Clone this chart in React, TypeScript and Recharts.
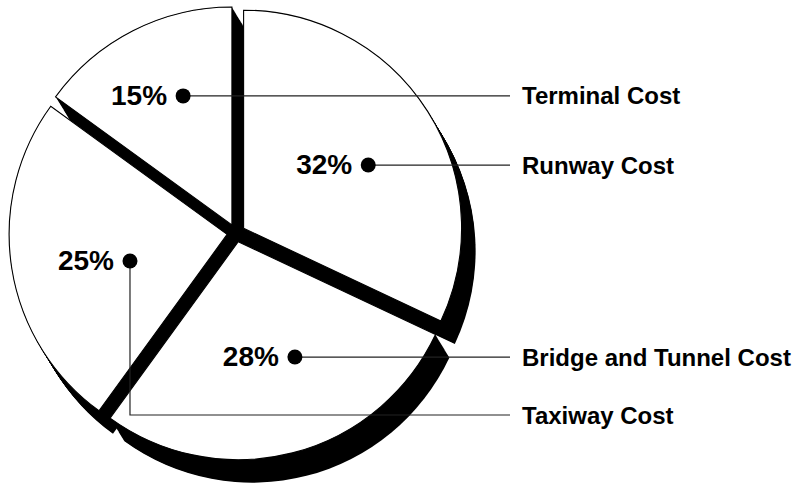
import React from 'react';
import { PieChart, Pie, Sector } from 'recharts';

// ---- data ----
const categories = ['Runway Cost', 'Bridge and Tunnel Cost', 'Taxiway Cost', 'Terminal Cost'];
const shares = [32, 28, 25, 15];

const data = categories.map((name, i) => ({ name, value: shares[i] }));

// ---- layout ----
const W = 801;
const H = 483;
const CX = 236;
const CY = 233;
const R = 218;
const EXPLODE = 9;
const SHADOW_DX = 14;
const SHADOW_DY = 23;
const RAD = Math.PI / 180;

// callout dot placement (polar, relative to pie centre) per slice
const dotAngle = [27.2, -64.6, 194.8, 111.1];
const dotRadiusRatio = [0.682, 0.63, 0.503, 0.674];
// row where the leader line runs to the name (null = same as dot)
const rowY: (number | null)[] = [null, null, 415, null];
const LINE_END_X = 510;
const NAME_X = 522;
const FONT = '"Liberation Sans", Arial, Helvetica, sans-serif';

function explodedCenter(p: any) {
  const m = (p.startAngle + p.endAngle) / 2;
  return { x: p.cx + EXPLODE * Math.cos(m * RAD), y: p.cy - EXPLODE * Math.sin(m * RAD) };
}

const renderShadow = (p: any) => {
  const c = explodedCenter(p);
  const steps = 30;
  return (
    <g>
      {p.index === 0 && <circle cx={p.cx + 4} cy={p.cy + 4} r={26} fill="#000" />}
      {Array.from({ length: steps + 1 }, (_, k) => (
        <Sector
          key={k}
          cx={c.x + (SHADOW_DX * k) / steps}
          cy={c.y + (SHADOW_DY * k) / steps}
          innerRadius={0}
          outerRadius={p.outerRadius}
          startAngle={p.startAngle}
          endAngle={p.endAngle}
          fill="#000"
          stroke="none"
        />
      ))}
    </g>
  );
};

const renderSlice = (p: any) => {
  const c = explodedCenter(p);
  return (
    <Sector
      cx={c.x}
      cy={c.y}
      innerRadius={0}
      outerRadius={p.outerRadius}
      startAngle={p.startAngle}
      endAngle={p.endAngle}
      fill="#fff"
      stroke="#000"
      strokeWidth={1.1}
    />
  );
};

const renderCallout = (p: any) => {
  const i = p.index;
  const r = p.outerRadius * dotRadiusRatio[i];
  const x = p.cx + r * Math.cos(dotAngle[i] * RAD);
  const y = p.cy - r * Math.sin(dotAngle[i] * RAD);
  const ry = rowY[i] == null ? y : (rowY[i] as number);
  const d = `M${x},${y} L${x},${ry} L${LINE_END_X},${ry}`;
  return (
    <g>
      <path d={d} fill="none" stroke="#222" strokeWidth={1.2} />
      <circle cx={x} cy={y} r={7.5} fill="#000" />
      <text
        x={x - 16}
        y={y + 9}
        textAnchor="end"
        fontFamily={FONT}
        fontWeight="bold"
        fontSize={28}
        fill="#000"
      >
        {`${shares[i]}%`}
      </text>
      <text x={NAME_X} y={ry + 8.5} fontFamily={FONT} fontWeight="bold" fontSize={24} fill="#000">
        {categories[i]}
      </text>
    </g>
  );
};

export default function App() {
  const common = {
    data,
    dataKey: 'value',
    nameKey: 'name',
    cx: CX,
    cy: CY,
    innerRadius: 0,
    outerRadius: R,
    startAngle: 90,
    endAngle: -270,
    fill: 'none',
    stroke: 'none',
    labelLine: false,
    isAnimationActive: false,
  } as any;
  return (
    <div style={{ position: 'absolute', left: 0, top: 0, width: W, height: H, background: '#fff' }}>
      <PieChart width={W} height={H} margin={{ top: 0, right: 0, bottom: 0, left: 0 }}>
        <Pie {...common} label={renderShadow} />
        <Pie {...common} label={renderSlice} />
        <Pie {...common} label={renderCallout} />
      </PieChart>
    </div>
  );
}
